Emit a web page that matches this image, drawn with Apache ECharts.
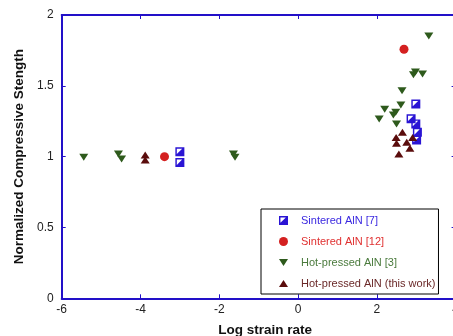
<!DOCTYPE html>
<html>
<head>
<meta charset="utf-8">
<script src="https://cdn.jsdelivr.net/npm/echarts@6/dist/echarts.min.js"></script>
<style>
html,body{margin:0;padding:0;background:#fff;}
#container{width:453px;height:336px;}
</style>
</head>
<body>
<div id="container"></div>
<script>
// data: [log strain rate, normalized strength]
var sinteredAlN7 = [[-3.0,1.035],[-3.0,0.958],[2.99,1.372],[2.87,1.268],[2.99,1.231],[3.03,1.172],[3.01,1.118]];
var sinteredAlN12 = [[-3.39,1.0],[2.69,1.758]];
var hotPressed3 = [[-5.44,0.995],[-4.56,1.019],[-4.48,0.984],[-1.64,1.019],[-1.60,0.995],
    [3.32,1.852],[2.93,1.579],[2.98,1.598],[3.16,1.584],[2.64,1.466],[2.61,1.365],
    [2.20,1.334],[2.48,1.313],[2.42,1.294],[2.06,1.266],[2.50,1.231]];
var hotPressedThisWork = [[-3.88,1.012],[-3.88,0.976],[2.65,1.172],[2.49,1.136],[2.50,1.094],
    [2.76,1.101],[2.91,1.136],[2.84,1.059],[2.56,1.019]];
var seriesNames = ['Sintered AlN [7]','Sintered AlN [12]','Hot-pressed AlN [3]','Hot-pressed AlN (this work)'];

var axisBlue = '#2210c8';
var squareIcon = 'path://M0,0H10V10H0Z M1.6,1.6 L1.6,7.6 L7.6,1.6 Z';
var downTri = 'path://M0,0 L10,0 L5,8 Z';
var upTri = 'path://M5,0 L10,8 L0,8 Z';
var myChart = echarts.init(document.getElementById('container'));

var axisCommon = {
    axisLine: {onZero: false, lineStyle: {color: axisBlue, width: 2}},
    axisTick: {inside: true, length: 4, lineStyle: {color: axisBlue, width: 1}},
    splitLine: {show: false}
};

var option = {
    animation: false,
    grid: {left: 61.7, right: -2.6, top: 15, bottom: 37.7, outerBoundsMode: 'none', containLabel: false},
    legend: {
        orient: 'vertical',
        left: 261, top: 209,
        padding: [6, 3, 5, 18],
        borderColor: '#000', borderWidth: 1,
        itemWidth: 9, itemHeight: 9, itemGap: 10,
        textStyle: {fontFamily: 'Liberation Sans', fontSize: 11, padding: [0, 0, 0, 8]},
        data: [
            {name: seriesNames[0], icon: squareIcon, textStyle: {color: '#3a28e0'}},
            {name: seriesNames[1], icon: 'circle', textStyle: {color: '#e03030'}},
            {name: seriesNames[2], icon: downTri, textStyle: {color: '#4a7a3c'}},
            {name: seriesNames[3], icon: upTri, textStyle: {color: '#6a2828'}}
        ]
    },
    xAxis: [
        Object.assign({}, axisCommon, {
            type: 'value', min: -6, max: 4, interval: 2,
            name: 'Log strain rate', nameLocation: 'middle', nameGap: 25,
            nameTextStyle: {fontFamily: 'Liberation Sans', fontWeight: 'bold', fontSize: 13.5, color: '#111', padding: [0, 0, 0, 13]},
            axisLabel: {margin: 5, fontFamily: 'Liberation Sans', fontSize: 12, color: '#222'}
        }),
        Object.assign({}, axisCommon, {
            type: 'value', min: -6, max: 4, interval: 2, position: 'top',
            axisLabel: {show: false}
        })
    ],
    yAxis: [
        Object.assign({}, axisCommon, {
            type: 'value', min: 0, max: 2, interval: 0.5,
            name: 'Normalized Compressive Stength', nameLocation: 'middle', nameGap: 33,
            nameTextStyle: {fontFamily: 'Liberation Sans', fontWeight: 'bold', fontSize: 13.5, color: '#111'},
            axisLabel: {margin: 8, fontFamily: 'Liberation Sans', fontSize: 12, color: '#222'}
        }),
        Object.assign({}, axisCommon, {
            type: 'value', min: 0, max: 2, interval: 0.5, position: 'right',
            axisLabel: {show: false}
        })
    ],
    series: [
        {name: seriesNames[0], type: 'scatter', data: sinteredAlN7, symbol: squareIcon, symbolSize: 9,
            itemStyle: {color: '#2a14d4', opacity: 1}},
        {name: seriesNames[1], type: 'scatter', data: sinteredAlN12, symbol: 'circle', symbolSize: 9,
            itemStyle: {color: '#d42020', opacity: 1}},
        {name: seriesNames[2], type: 'scatter', data: hotPressed3, symbol: 'triangle', symbolRotate: 180, symbolSize: [9, 7],
            itemStyle: {color: '#2e5a1c', opacity: 1}},
        {name: seriesNames[3], type: 'scatter', data: hotPressedThisWork, symbol: 'triangle', symbolSize: [9, 7],
            itemStyle: {color: '#5a0c0c', opacity: 1}}
    ]
};
myChart.setOption(option);
</script>
</body>
</html>
